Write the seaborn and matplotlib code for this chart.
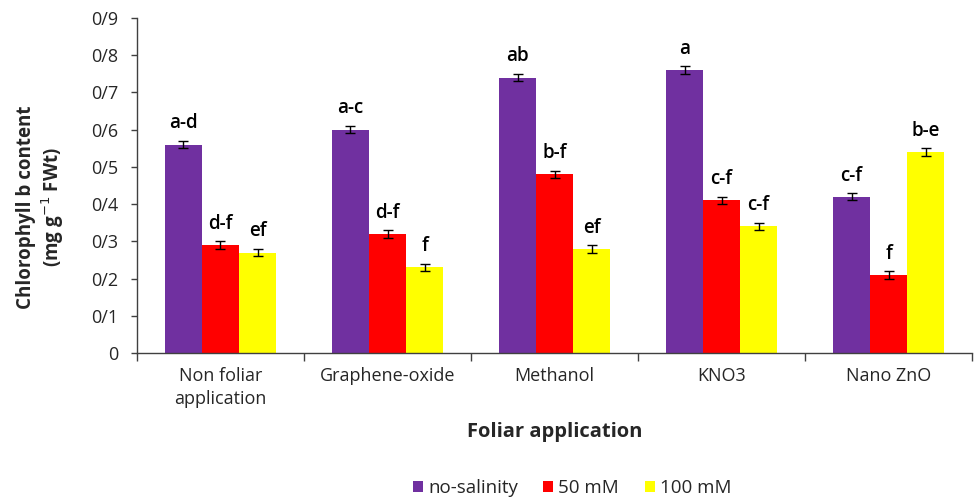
import matplotlib
matplotlib.use("Agg")
import matplotlib.pyplot as plt
from matplotlib.ticker import FuncFormatter, FixedLocator
import seaborn as sns
import pandas as pd
import numpy as np

categories = ["Non foliar\napplication", "Graphene-oxide", "Methanol", "KNO3", "Nano ZnO"]
salinity = ["no-salinity", "50 mM", "100 mM"]
no_salinity = [0.56, 0.60, 0.74, 0.76, 0.42]
mm50 = [0.29, 0.32, 0.48, 0.41, 0.21]
mm100 = [0.27, 0.23, 0.28, 0.34, 0.54]
err_no = [0.010, 0.010, 0.010, 0.010, 0.010]
err_50 = [0.010, 0.010, 0.010, 0.010, 0.010]
err_100 = [0.010, 0.010, 0.010, 0.010, 0.010]
letters_no = ["a-d", "a-c", "ab", "a", "c-f"]
letters_50 = ["d-f", "d-f", "b-f", "c-f", "f"]
letters_100 = ["ef", "f", "ef", "c-f", "b-e"]
colors = ["#7030A0", "#FF0000", "#FFFF00"]

sns.set_style("white")
plt.rcParams["font.family"] = ["Open Sans", "DejaVu Sans"]

df = pd.DataFrame({
    "application": categories * 3,
    "salinity": [s for s in salinity for _ in categories],
    "value": no_salinity + mm50 + mm100,
})
errs = [err_no, err_50, err_100]
letters = [letters_no, letters_50, letters_100]
values = [no_salinity, mm50, mm100]

fig = plt.figure(figsize=(9.75, 4.97), dpi=100)
ax = fig.add_axes([0.1405, 0.2897, 0.8565, 0.6741])

sns.barplot(data=df, x="application", y="value", hue="salinity",
            order=categories, hue_order=salinity, palette=colors,
            width=0.665, gap=0, errorbar=None, saturation=1,
            linewidth=0, ax=ax, legend=True)

# error bars and significance letters on each bar
bar_groups = list(ax.containers)
for i, cont in enumerate(bar_groups):
    for j, patch in enumerate(cont.patches):
        xc = patch.get_x() + patch.get_width() / 2
        v = values[i][j]
        e = errs[i][j]
        ax.errorbar(xc, v, yerr=e, fmt="none", ecolor="black",
                    elinewidth=1, capsize=3.6, capthick=1)
        ax.text(xc, v + e + 0.02, letters[i][j], ha="center", va="bottom",
                fontsize=13.5, fontweight="semibold", color="black")

ax.set_xlim(-0.5, 4.5)
ax.set_ylim(0, 0.9)
ax.set_yticks(np.arange(0, 0.91, 0.1))
ax.yaxis.set_major_formatter(FuncFormatter(
    lambda v, p: "0" if abs(v) < 1e-9 else "0/%d" % round(v * 10)))
ax.tick_params(axis="y", which="major", direction="out", length=4.5,
               width=1, color="#404040", labelsize=13, left=True, pad=9)
ax.tick_params(axis="x", which="major", length=0, labelsize=13, pad=10)
for lbl in ax.get_xticklabels():
    lbl.set_linespacing(1.35)
ax.xaxis.set_minor_locator(FixedLocator(np.arange(-0.5, 4.6, 1)))
ax.tick_params(axis="x", which="minor", direction="out", length=6,
               width=1, color="#404040", bottom=True)

for s in ["top", "right"]:
    ax.spines[s].set_visible(False)
for s in ["left", "bottom"]:
    ax.spines[s].set_color("#404040")
    ax.spines[s].set_linewidth(1)

ax.set_xlabel("Foliar application", fontsize=14.5, fontweight="bold")
ax.xaxis.set_label_coords(0.5, -0.235)
ax.xaxis.label.set_va("center")
ax.set_ylabel("Chlorophyll b content\n(mg g$^{-1}$ FWt)", fontsize=13.5,
              fontweight="bold")
ax.yaxis.label.set_va("center")
ax.yaxis.set_label_coords(-0.115, 0.435)

handles, labels = ax.get_legend_handles_labels()
ax.get_legend().remove()
fig.legend(handles, labels, loc="center", bbox_to_anchor=(572 / 975, 1 - 488 / 497),
           ncol=3, frameon=False, fontsize=13.5, handlelength=0.55,
           handleheight=0.55, handletextpad=0.27, columnspacing=1.35)

fig.savefig("out.png", dpi=100)
